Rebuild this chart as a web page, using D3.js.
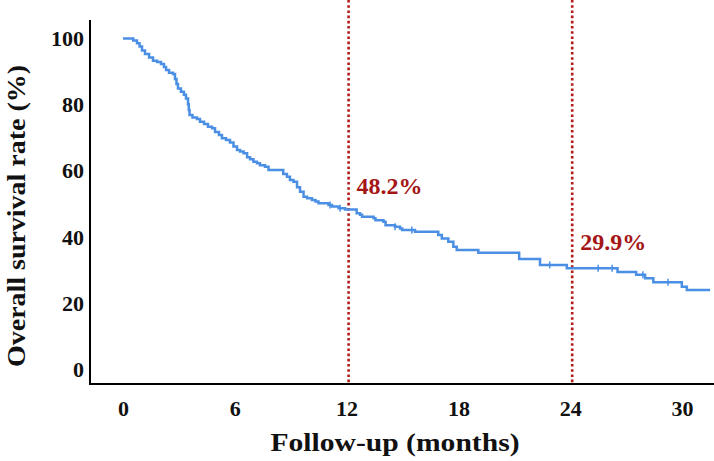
<!DOCTYPE html>
<html><head><meta charset="utf-8">
<script src="https://cdn.jsdelivr.net/npm/d3@7"></script>
<style>body{margin:0;background:#fff;}svg{display:block;}</style>
</head><body>
<svg id="c" width="714" height="461"></svg>
<script>
const times = [0,0.55,0.75,0.89,1.02,1.18,1.40,1.61,1.83,2.04,2.20,2.31,2.47,2.68,2.79,2.87,2.95,3.11,3.27,3.38,3.49,3.53,3.57,3.73,3.97,4.13,4.35,4.56,4.78,4.94,5.15,5.31,5.53,5.74,5.93,6.12,6.28,6.47,6.66,6.82,7.00,7.19,7.35,7.62,7.81,8.60,8.80,8.96,9.15,9.34,9.50,9.69,9.88,10.14,10.33,10.49,11.03,11.22,11.57,11.92,12.54,12.72,12.83,13.45,13.55,13.98,14.09,14.60,14.87,14.98,15.67,16.92,17.11,17.46,17.73,17.91,19.07,21.26,22.38,23.82,26.54,27.54,28.02,28.46,29.99,30.26,31.51];
const survival = [100,99.4,98.6,97.6,96.4,95.3,94.3,93.3,92.9,92.3,91.4,90.5,89.7,89.3,87.8,86.3,84.9,83.9,83.0,81.9,80.2,78.4,76.9,76.2,75.7,74.9,74.2,73.4,72.9,71.8,70.9,69.9,69.4,68.6,67.4,66.4,65.9,65.4,64.2,63.6,62.8,62.4,61.8,61.3,60.3,59.1,58.3,57.3,56.8,55.1,53.8,52.3,51.8,51.3,50.8,50.3,49.8,49.3,48.8,48.4,47.3,46.8,46.2,45.8,45.2,44.7,43.7,43.2,42.7,42.2,41.7,40.7,39.7,38.7,37.2,36.2,35.4,33.5,31.7,30.7,29.6,28.7,27.7,26.5,25.1,24.1,24.1];
const censorTimes = [11.11,11.65,14.6,15.5,22.9,25.5,26.25,27.9,29.25];
const xTicks = [0,6,12,18,24,30];
const yTicks = [0,20,40,60,80,100];
const markTimes = [12,24];
const markLabels = ["48.2%","29.9%"];

const svg = d3.select("#c");
const x = d3.scaleLinear().domain([0,30]).range([123,682]);
const y = d3.scaleLinear().domain([0,100]).range([370,38.5]);
const font = "'Liberation Serif','Times New Roman',serif";

// axes lines
svg.append("line").attr("x1",90).attr("x2",90).attr("y1",20).attr("y2",385)
  .attr("stroke","#000").attr("stroke-width",2);
svg.append("line").attr("x1",89).attr("x2",714).attr("y1",384).attr("y2",384)
  .attr("stroke","#000").attr("stroke-width",2);

// tick labels via axis generators (no tick lines)
const xAxis = svg.append("g").attr("transform","translate(0,384)")
  .call(d3.axisBottom(x).tickValues(xTicks).tickSize(0).tickPadding(16));
xAxis.select(".domain").remove();
xAxis.selectAll("text").attr("font-family",font).attr("font-weight","bold")
  .attr("font-size",22).attr("fill","#111");

const yAxis = svg.append("g").attr("transform","translate(84,0)")
  .call(d3.axisLeft(y).tickValues(yTicks).tickSize(0).tickPadding(0));
yAxis.select(".domain").remove();
yAxis.selectAll("text").attr("font-family",font).attr("font-weight","bold")
  .attr("font-size",22).attr("fill","#111").attr("dy","0.3em");

// axis titles
svg.append("text").attr("x",395).attr("y",451).attr("text-anchor","middle")
  .attr("font-family",font).attr("font-weight","bold").attr("font-size",26)
  .attr("textLength",249).attr("lengthAdjust","spacingAndGlyphs")
  .attr("fill","#111").text("Follow-up (months)");
svg.append("text").attr("transform","translate(25,216) rotate(-90)")
  .attr("text-anchor","middle").attr("font-family",font).attr("font-weight","bold")
  .attr("font-size",26).attr("textLength",302).attr("lengthAdjust","spacingAndGlyphs")
  .attr("fill","#111").text("Overall survival rate (%)");

// reference lines
svg.selectAll(".ref").data(markTimes).enter().append("line")
  .attr("x1",d=>x(d)+2).attr("x2",d=>x(d)+2).attr("y1",0).attr("y2",384)
  .attr("stroke","#b31b1b").attr("stroke-width",2.6).attr("stroke-dasharray","2.6,2.6");

// KM curve
const pts = times.map((t,i)=>[t,survival[i]]);
const line = d3.line().x(d=>x(d[0])).y(d=>y(d[1])).curve(d3.curveStepAfter);
svg.append("path").attr("d",line(pts)).attr("fill","none")
  .attr("stroke","#4a8fe3").attr("stroke-width",2.5);

// censor marks
function survAt(t){let v=survival[0];for(let i=0;i<times.length;i++){if(times[i]<=t)v=survival[i];}return v;}
svg.selectAll(".cens").data(censorTimes).enter().append("line")
  .attr("x1",d=>x(d)).attr("x2",d=>x(d))
  .attr("y1",d=>y(survAt(d))-3.5).attr("y2",d=>y(survAt(d))+3.5)
  .attr("stroke","#4a8fe3").attr("stroke-width",1.5);

// labels
svg.selectAll(".lab").data(markLabels).enter().append("text")
  .attr("x",(d,i)=>x(markTimes[i])+10).attr("y",(d,i)=>i===0?194:250)
  .attr("font-family",font).attr("font-weight","bold").attr("font-size",24)
  .attr("fill","#a51616").text(d=>d);
</script>
</body></html>
